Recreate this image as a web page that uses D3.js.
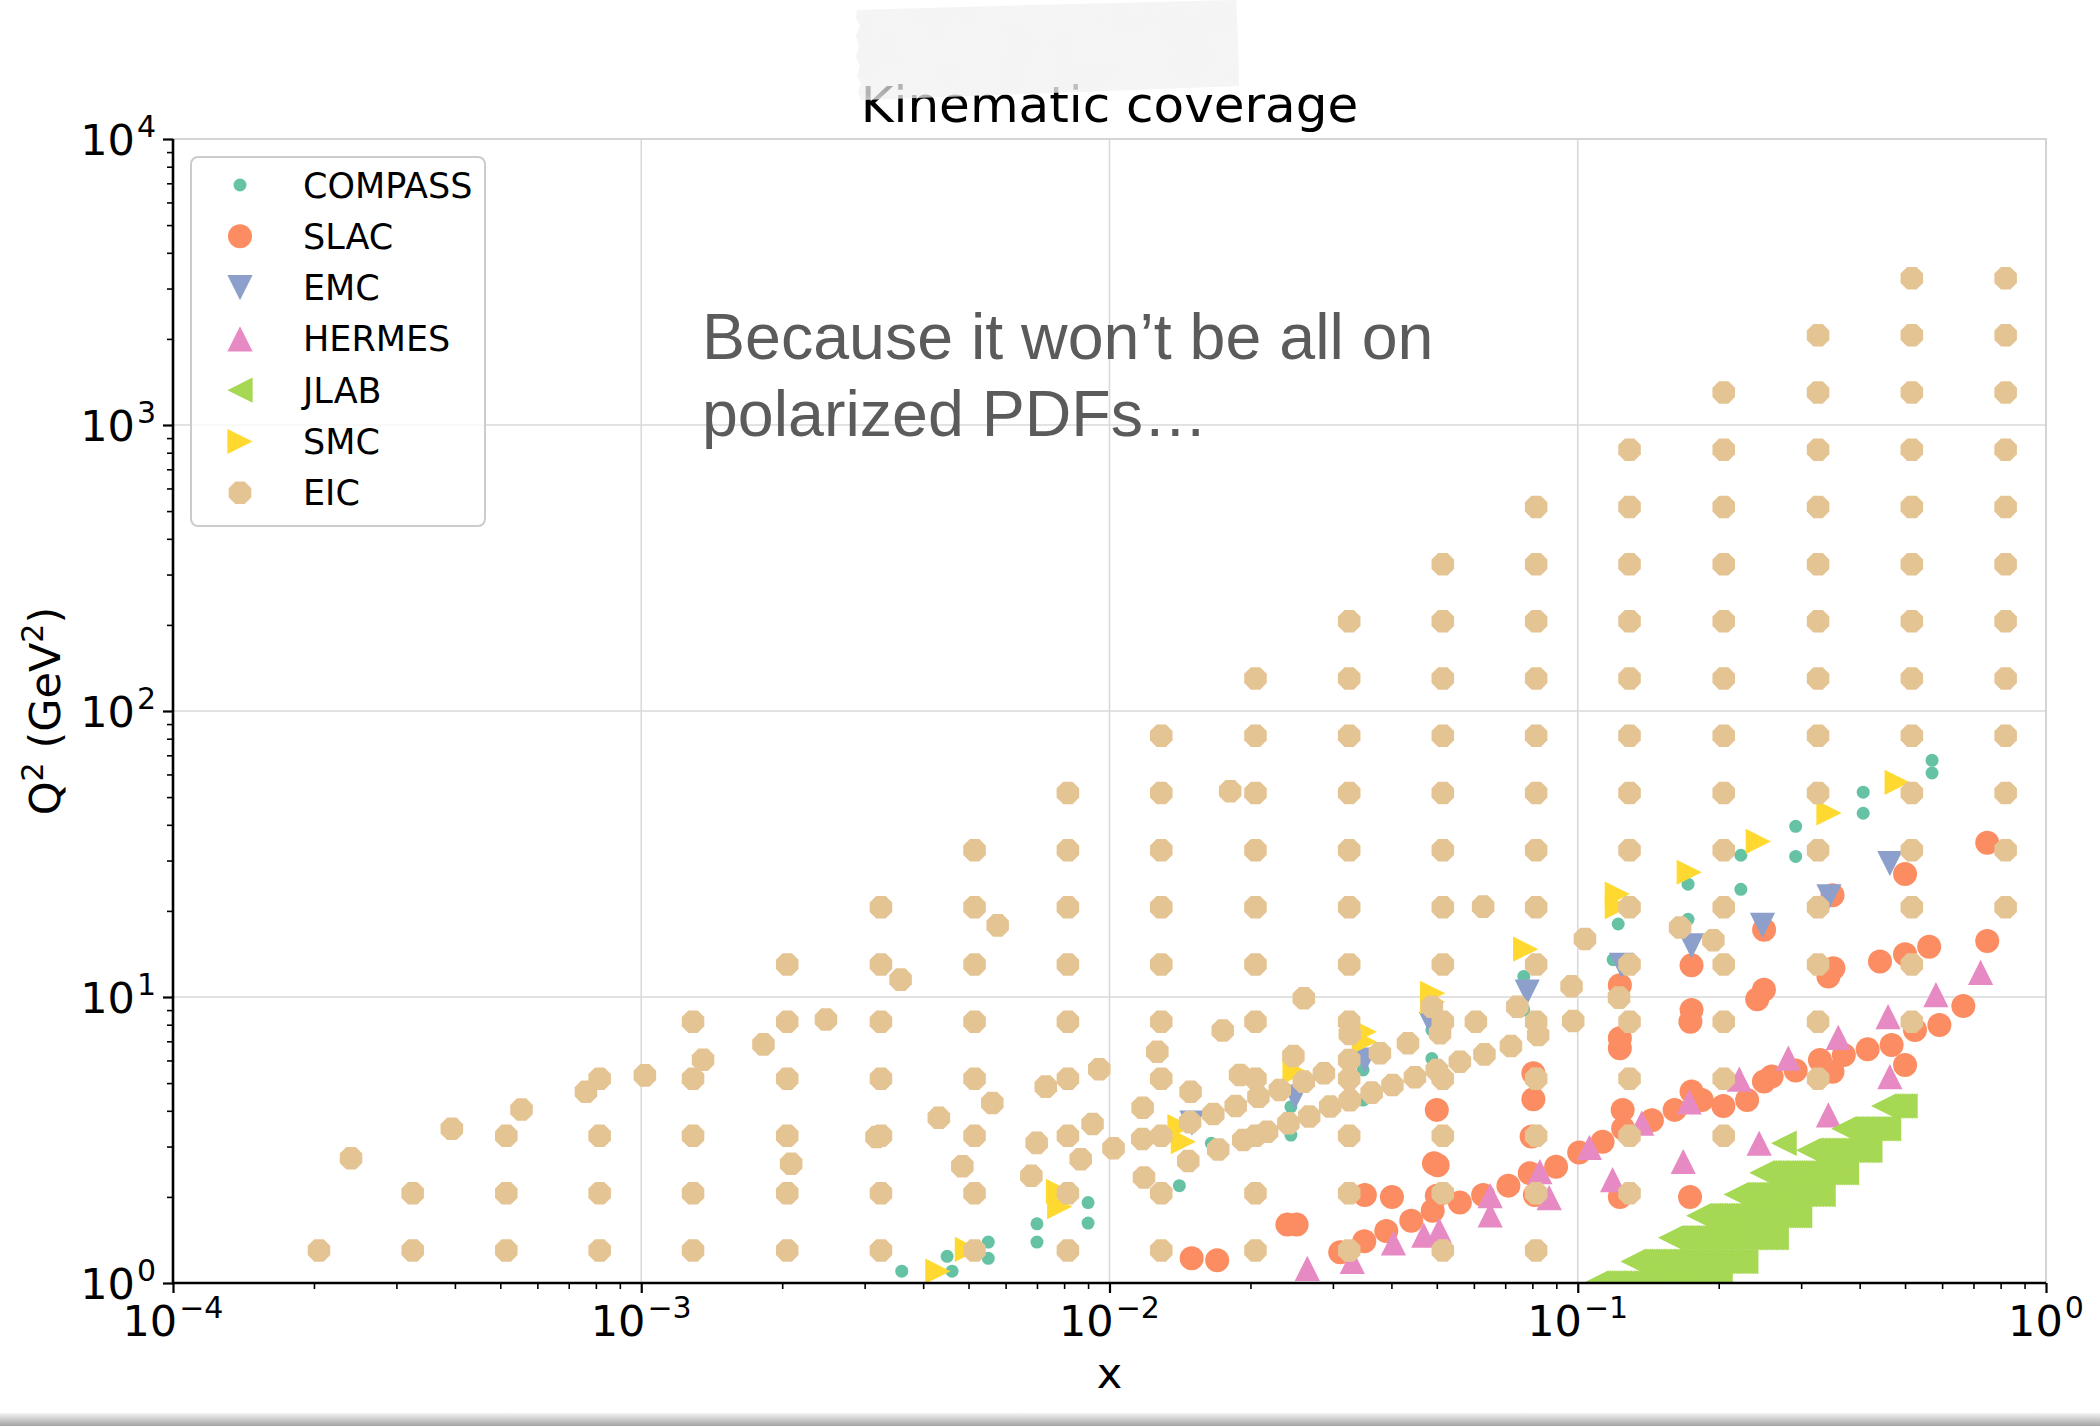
<!DOCTYPE html>
<html>
<head>
<meta charset="utf-8">
<script src="https://cdn.jsdelivr.net/npm/d3@7"></script>
<style>
  html, body { margin: 0; padding: 0; background: #ffffff; }
  svg { display: block; }
</style>
</head>
<body>
<svg id="chart" width="2100" height="1426"></svg>
<script>
// ---------------- data: [x, Q^2 (GeV^2)] ----------------
const compass = [
  [3.6e-3,1.10],[4.5e-3,1.24],[4.61e-3,1.10],[5.51e-3,1.39],[5.51e-3,1.22],
  [7.0e-3,1.61],[7.0e-3,1.39],[9.0e-3,1.91],[9.0e-3,1.62],[0.0141,2.19],
  [0.0165,3.08],[0.0244,3.29],[0.0244,4.13],[0.0348,5.56],[0.0348,4.36],
  [0.0488,6.09],[0.0488,7.67],[0.0767,11.8],[0.0767,9.01],[0.119,13.5],
  [0.122,18.0],[0.172,24.8],[0.172,18.7],[0.223,31.3],[0.223,23.8],
  [0.292,39.5],[0.292,31.0],[0.407,52.0],[0.407,43.9],[0.571,67.2],[0.571,60.7]
];

const slac = [
  [0.01498,1.22],[0.01698,1.20],[0.02398,1.60],[0.0251,1.60],[0.0311,1.28],
  [0.035,1.40],[0.039,1.52],[0.0441,1.65],[0.049,1.79],[0.050,2.02],
  [0.056,1.91],[0.0628,2.03],[0.0711,2.19],[0.079,2.42],[0.081,2.03],
  [0.0899,2.55],[0.1007,2.86],[0.113,3.12],[0.123,2.00],[0.1247,4.03],
  [0.125,3.47],[0.144,3.71],[0.161,4.03],[0.175,4.67],[0.184,4.36],
  [0.2046,4.16],[0.230,4.36],[0.2498,5.06],[0.2594,5.27],[0.292,5.53],
  [0.329,6.02],[0.350,5.48],[0.370,6.27],[0.416,6.56],[0.468,6.80],
  [0.500,5.78],[0.525,7.67],[0.592,7.98],[0.666,9.30],[0.1737,2.00],
  [0.050,4.03],[0.0493,2.62],[0.0502,2.58],[0.0804,5.41],[0.0804,4.39],
  [0.0797,3.25],[0.123,6.62],[0.123,7.17],[0.123,11.0],[0.175,12.9],
  [0.175,9.0],[0.174,8.2],[0.2417,9.82],[0.2498,10.6],[0.343,11.8],
  [0.3515,12.6],[0.442,13.3],[0.250,17.2],[0.350,22.7],[0.500,26.9],
  [0.749,34.6],[0.749,15.7],[0.563,15.0],[0.500,14.1],[0.0351,2.03],[0.0401,2.00]
];

const emc = [
  [0.248,17.8],[0.344,22.4],[0.464,29.3],[0.175,15.1],[0.124,12.9],
  [0.078,10.4],[0.0487,8.0],[0.0351,6.02],[0.0249,4.47],[0.015,3.62]
];

const hermes = [
  [0.02645,1.125],[0.033,1.19],[0.0404,1.38],[0.0469,1.47],[0.0506,1.53],
  [0.065,1.73],[0.065,2.02],[0.083,2.45],[0.0869,1.99],[0.1059,2.98],
  [0.1187,2.30],[0.137,3.62],[0.168,2.66],[0.173,4.30],[0.2213,5.16],
  [0.244,3.08],[0.2816,6.11],[0.343,3.87],[0.360,7.23],[0.460,8.54],
  [0.464,5.27],[0.582,10.2],[0.725,12.2]
];

// JLAB: fine x binning shared by all Q^2 rows; each row keeps bins lo..hi
const jlabBinX = [
  0.1093,0.1106,0.1118,0.1131,0.1145,0.1158,0.1171,0.1185,0.1198,0.1212,
  0.1226,0.1241,0.1255,0.1269,0.1284,0.1299,0.1314,0.1329,0.1345,0.1360,
  0.1376,0.1392,0.1408,0.1424,0.1441,0.1457,0.1474,0.1491,0.1509,0.1526,
  0.1544,0.1562,0.1580,0.1598,0.1617,0.1635,0.1654,0.1673,0.1693,0.1712,
  0.1732,0.1752,0.1773,0.1793,0.1814,0.1835,0.1856,0.1878,0.1899,0.1921,
  0.1944,0.1966,0.1989,0.2012,0.2035,0.2059,0.2083,0.2107,0.2131,0.2156,
  0.2181,0.2206,0.2231,0.2257,0.2283,0.2310,0.2337,0.2364,0.2391,0.2419,
  0.2447,0.2475,0.2504,0.2533,0.2562,0.2592,0.2622,0.2652,0.2683,0.2714,
  0.2745,0.2777,0.2809,0.2842,0.2875,0.2908,0.2942,0.2976,0.3010,0.3045,
  0.3080,0.3116,0.3152,0.3189,0.3225,0.3263,0.3301,0.3339,0.3378,0.3417,
  0.3456,0.3496,0.3537,0.3578,0.3619,0.3661,0.3703,0.3746,0.3790,0.3833,
  0.3878,0.3923,0.3968,0.4014,0.4061,0.4108,0.4155,0.4203,0.4252,0.4301,
  0.4351,0.4401,0.4452,0.4504,0.4556,0.4609,0.4662,0.4716,0.4771,0.4826,
  0.4882,0.4938,0.4996,0.5054
];
const jlabRowQ2 = [1.00, 1.19, 1.44, 1.72, 2.04, 2.43, 2.91, 3.46, 4.16];
const jlabRowLo = [0, 16, 32, 44, 60, 71, 91, 106, 123];
const jlabRowHi = [53, 64, 77, 87, 97, 107, 117, 125, 132];
const jlabExtra = [[0.2757, 3.08]];

const smc = [
  [0.481,56.3],[0.344,44.0],[0.243,35.0],[0.173,27.3],[0.1215,22.9],
  [0.1215,20.7],[0.0774,14.7],[0.049,10.3],[0.049,9.63],[0.035,7.56],
  [0.035,6.98],[0.0249,5.48],[0.01414,3.52],[0.01438,3.12],[7.78e-3,2.09],
  [7.83e-3,1.85],[4.97e-3,1.31],[4.3e-3,1.10]
];

// EIC projection: a regular (x, Q^2) grid; each column keeps rows lo..hi
const eicGridX  = [2.05e-4,3.25e-4,5.15e-4,8.15e-4,1.29e-3,2.05e-3,3.25e-3,5.15e-3,8.15e-3,
                   0.0129,0.0205,0.0325,0.0515,0.0815,0.129,0.205,0.326,0.517,0.82];
const eicGridQ2 = [1.3,2.06,3.27,5.18,8.2,13.0,20.6,32.6,51.7,82,130,206,326,517,820,1300,2060,3260];
const eicColLo  = [0,0,0,0,0,0,0,0,0,0,0,0,0,0,1,2,3,4,6];
const eicColHi  = [0,1,2,3,4,5,6,7,8,9,10,11,12,13,14,15,16,17,17];
// EIC projection: second configuration, off the grid
const eicExtra = [
  [2.40e-4,2.73],[3.94e-4,3.46],[5.55e-4,4.04],[7.62e-4,4.66],[1.018e-3,5.32],
  [1.355e-3,6.03],[1.824e-3,6.83],[2.48e-3,8.34],[3.58e-3,11.5],[2.09e-3,2.61],
  [3.18e-3,3.24],[5.77e-3,17.8],[4.32e-3,3.78],[5.62e-3,4.26],[4.85e-3,2.56],
  [7.31e-3,4.86],[6.99e-3,3.09],[6.81e-3,2.37],[0.026,9.9],[0.01745,7.63],
  [0.01265,6.44],[0.0247,6.22],[9.51e-3,5.59],[0.019,5.34],[0.0149,4.66],
  [0.0208,4.48],[0.0231,4.73],[0.026,5.06],[0.0267,3.82],[0.0287,5.41],
  [0.01177,4.10],[0.01666,3.90],[0.0186,4.16],[0.01486,3.65],[0.0241,3.62],
  [9.2e-3,3.60],[0.01175,3.19],[0.01707,2.93],[0.0193,3.16],[0.0217,3.38],
  [0.0102,2.96],[8.68e-3,2.71],[0.01473,2.67],[0.01185,2.34],[0.0970,10.9],
  [0.1225,9.95],[0.0743,9.25],[0.0978,8.24],[0.0488,9.25],[0.0508,7.47],
  [0.0823,7.36],[0.0326,7.42],[0.0378,6.36],[0.0434,6.89],[0.0606,8.20],
  [0.0720,6.74],[0.0632,6.30],[0.0560,5.94],[0.0500,5.56],[0.0449,5.24],
  [0.0402,4.92],[0.0363,4.63],[0.0325,6.02],[0.0326,4.36],[0.0296,4.14],
  [0.0628,20.7],[0.1036,15.95],[0.1654,17.5],[0.1948,15.8],[0.0181,52.4]
];

const xTickExp = [-4, -3, -2, -1, 0];
const yTickExp = [0, 1, 2, 3, 4];
const titleText = "Kinematic coverage";
const noteLines = ["Because it won\u2019t be all on", "polarized PDFs\u2026"];

// ---------------- assemble tables ----------------
const jlab = [];
jlabRowQ2.forEach((q2, i) => {
  for (let k = jlabRowLo[i]; k <= jlabRowHi[i]; k++) jlab.push([jlabBinX[k], q2]);
});
jlabExtra.forEach(p => jlab.push(p));
const eic = [];
eicGridX.forEach((xv, c) => {
  for (let r = eicColLo[c]; r <= eicColHi[c]; r++) eic.push([xv, eicGridQ2[r]]);
});
eicExtra.forEach(p => eic.push(p));

// ---------------- layout ----------------
const W = 2100, H = 1426;
const L = 173, R = 2046, T = 139, B = 1283;
const x = d3.scaleLog().domain([1e-4, 1]).range([L, R]);
const y = d3.scaleLog().domain([1, 1e4]).range([B, T]);

const svg = d3.select("#chart");
svg.append("rect").attr("width", W).attr("height", H).attr("fill", "#ffffff");

const defs = svg.append("defs");
defs.append("clipPath").attr("id", "plotClip")
  .append("rect").attr("x", L).attr("y", T).attr("width", R - L).attr("height", B - T);

// ---------------- marker shapes ----------------
const shapes = {
  circle: r => `M${r},0A${r},${r} 0 1,1 ${-r},0A${r},${r} 0 1,1 ${r},0Z`,
  down:  r => `M0,${r}L${r},${-r}L${-r},${-r}Z`,
  up:    r => `M0,${-r}L${r},${r}L${-r},${r}Z`,
  left:  r => `M${-r},0L${r},${-r}L${r},${r}Z`,
  right: r => `M${r},0L${-r},${-r}L${-r},${r}Z`,
  octagon: r => {
    const pts = d3.range(8).map(i => {
      const a = Math.PI / 8 + i * Math.PI / 4;
      return [(r * Math.cos(a)).toFixed(2), (r * Math.sin(a)).toFixed(2)].join(",");
    });
    return "M" + pts.join("L") + "Z";
  }
};

const series = [
  { name: "COMPASS", data: compass, color: "#66c2a5", shape: "circle",  size: 6.5 },
  { name: "SLAC",    data: slac,    color: "#fc8d62", shape: "circle",  size: 12 },
  { name: "EMC",     data: emc,     color: "#8da0cb", shape: "down",    size: 12.6 },
  { name: "HERMES",  data: hermes,  color: "#e78ac3", shape: "up",      size: 12.6 },
  { name: "JLAB",    data: jlab,    color: "#a6d854", shape: "left",    size: 12.8 },
  { name: "SMC",     data: smc,     color: "#ffd92f", shape: "right",   size: 12.6 },
  { name: "EIC",     data: eic,     color: "#e5c494", shape: "octagon", size: 12.2 }
];

// ---------------- grid & frame ----------------
const grid = svg.append("g").attr("stroke", "#d9d9d9").attr("stroke-width", 1.6);
xTickExp.forEach(e => {
  const px = x(Math.pow(10, e));
  grid.append("line").attr("x1", px).attr("x2", px).attr("y1", T).attr("y2", B);
});
yTickExp.forEach(e => {
  const py = y(Math.pow(10, e));
  grid.append("line").attr("x1", L).attr("x2", R).attr("y1", py).attr("y2", py);
});
// light top/right spines
svg.append("path").attr("d", `M${L},${T}H${R}V${B}`)
  .attr("fill", "none").attr("stroke", "#d4d4d4").attr("stroke-width", 2);

// ---------------- data marks ----------------
const plot = svg.append("g").attr("clip-path", "url(#plotClip)");
series.forEach(s => {
  const d = shapes[s.shape](s.size);
  plot.append("g").selectAll("path").data(s.data).join("path")
    .attr("d", d)
    .attr("transform", p => `translate(${x(p[0]).toFixed(2)},${y(p[1]).toFixed(2)})`)
    .attr("fill", s.color);
});

// ---------------- axes ----------------
const majorX = xTickExp.map(e => Math.pow(10, e));
const majorY = yTickExp.map(e => Math.pow(10, e));
const minorX = x.ticks().filter(v => !majorX.some(m => Math.abs(v / m - 1) < 1e-6));
const minorY = y.ticks().filter(v => !majorY.some(m => Math.abs(v / m - 1) < 1e-6));

function styleAxis(g, w) {
  g.select(".domain").remove();
  g.selectAll(".tick line").attr("stroke", "#000").attr("stroke-width", w);
  g.selectAll(".tick text").remove();
}
svg.append("g").attr("transform", `translate(0,${B})`)
  .call(d3.axisBottom(x).tickValues(minorX).tickSize(6).tickFormat(""))
  .call(g => styleAxis(g, 1.6));
svg.append("g").attr("transform", `translate(0,${B})`)
  .call(d3.axisBottom(x).tickValues(majorX).tickSize(10).tickFormat(""))
  .call(g => styleAxis(g, 2.2));
svg.append("g").attr("transform", `translate(${L},0)`)
  .call(d3.axisLeft(y).tickValues(minorY).tickSize(6).tickFormat(""))
  .call(g => styleAxis(g, 1.6));
svg.append("g").attr("transform", `translate(${L},0)`)
  .call(d3.axisLeft(y).tickValues(majorY).tickSize(10).tickFormat(""))
  .call(g => styleAxis(g, 2.2));

// black left/bottom spines
svg.append("path").attr("d", `M${L},${T}V${B}H${R}`)
  .attr("fill", "none").attr("stroke", "#000").attr("stroke-width", 2.6);

const FONT = "'DejaVu Sans', sans-serif";
function powerLabel(sel, exp) {
  sel.append("tspan").text("10");
  sel.append("tspan").attr("font-size", 30).attr("dx", 2).attr("dy", -18)
    .text(exp < 0 ? "\u2212" + (-exp) : String(exp));
}
xTickExp.forEach(e => {
  svg.append("text").attr("x", x(Math.pow(10, e))).attr("y", B + 53)
    .attr("text-anchor", "middle").attr("font-family", FONT).attr("font-size", 43)
    .attr("fill", "#000").call(t => powerLabel(t, e));
});
yTickExp.forEach(e => {
  svg.append("text").attr("x", L - 17).attr("y", y(Math.pow(10, e)) + 16)
    .attr("text-anchor", "end").attr("font-family", FONT).attr("font-size", 43)
    .attr("fill", "#000").call(t => powerLabel(t, e));
});

// axis titles
svg.append("text").attr("x", (L + R) / 2).attr("y", 1388)
  .attr("text-anchor", "middle").attr("font-family", FONT).attr("font-size", 43)
  .text("x");
const yl = svg.append("text")
  .attr("transform", `translate(60,${(T + B) / 2}) rotate(-90)`)
  .attr("text-anchor", "middle").attr("font-family", FONT).attr("font-size", 43);
yl.append("tspan").text("Q");
yl.append("tspan").attr("font-size", 30).attr("dy", -17).text("2");
yl.append("tspan").attr("dy", 17).text(" (GeV");
yl.append("tspan").attr("font-size", 30).attr("dy", -17).text("2");
yl.append("tspan").attr("dy", 17).text(")");

// ---------------- title ----------------
svg.append("text").attr("x", (L + R) / 2).attr("y", 122)
  .attr("text-anchor", "middle").attr("font-family", FONT).attr("font-size", 50)
  .attr("fill", "#000").text(titleText);

// strip of tape laid over the title
const tapeFilter = defs.append("filter").attr("id", "tapeTex")
  .attr("x", "0").attr("y", "0").attr("width", "1").attr("height", "1");
tapeFilter.append("feTurbulence").attr("type", "fractalNoise")
  .attr("baseFrequency", "0.018 0.03").attr("numOctaves", 3).attr("seed", 7).attr("result", "n");
tapeFilter.append("feColorMatrix").attr("in", "n").attr("type", "matrix")
  .attr("values", "0 0 0 0 0.90  0 0 0 0 0.90  0 0 0 0 0.90  0 0 0 -0.9 0.75").attr("result", "m");
tapeFilter.append("feComposite").attr("in", "m").attr("in2", "SourceGraphic").attr("operator", "in");
const tapePts = [[857,10],[1000,6],[1236,0],[1238,40],[1239,86],[1050,93],[861,100],
                 [858,92],[861,84],[857,76],[860,66],[856,56],[859,46],[856,36],[860,26],[856,18]];
const tapeD = "M" + tapePts.map(p => p.join(",")).join("L") + "Z";
svg.append("path").attr("d", tapeD).attr("fill", "#f0f0f0").attr("fill-opacity", 0.68);
svg.append("path").attr("d", tapeD).attr("fill", "#ededed").attr("filter", "url(#tapeTex)");

// ---------------- note ----------------
noteLines.forEach((line, i) => {
  svg.append("text").attr("x", 702).attr("y", 359 + i * 77)
    .attr("font-family", "'Liberation Sans', Arial, sans-serif").attr("font-size", 64.5)
    .attr("fill", "#5b5b5b").text(line);
});

// ---------------- legend ----------------
const lg = svg.append("g");
lg.append("rect").attr("x", 191).attr("y", 157).attr("width", 294).attr("height", 369)
  .attr("rx", 7).attr("fill", "#ffffff").attr("fill-opacity", 0.8)
  .attr("stroke", "#cccccc").attr("stroke-width", 2);
series.forEach((s, i) => {
  const cy = 185 + i * 51.3;
  lg.append("path").attr("d", shapes[s.shape](Math.min(s.size, 12.6)))
    .attr("transform", `translate(240,${cy})`).attr("fill", s.color);
  lg.append("text").attr("x", 303).attr("y", cy + 12.5)
    .attr("font-family", FONT).attr("font-size", 35).attr("fill", "#000").text(s.name);
});

// ---------------- shadow along the lower edge ----------------
const sg = defs.append("linearGradient").attr("id", "edgeShade")
  .attr("x1", 0).attr("y1", 0).attr("x2", 0).attr("y2", 1);
sg.append("stop").attr("offset", "0").attr("stop-color", "#f4f4f4");
sg.append("stop").attr("offset", "1").attr("stop-color", "#a3a3a3");
svg.append("rect").attr("x", 0).attr("y", 1413).attr("width", W).attr("height", 13)
  .attr("fill", "url(#edgeShade)");
</script>
</body>
</html>
